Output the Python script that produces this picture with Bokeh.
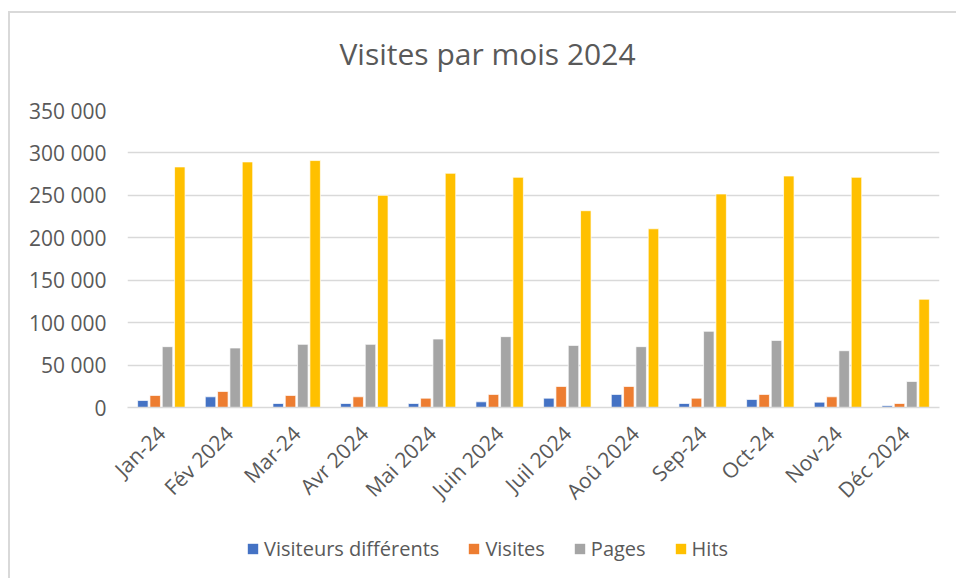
import math
from bokeh.plotting import figure
from bokeh.layouts import column
from bokeh.models import (ColumnDataSource, FixedTicker, Legend, LegendItem,
                          Range1d, FactorRange, Label)
from bokeh.transform import dodge
from bokeh.embed import file_html
from bokeh.resources import INLINE

# ---- data ----
months = ["Jan-24", "Fév 2024", "Mar-24", "Avr 2024", "Mai 2024", "Juin 2024",
          "Juil 2024", "Aoû 2024", "Sep-24", "Oct-24", "Nov-24", "Déc 2024"]
visiteurs = [8300, 12600, 4700, 4700, 4700, 6700, 11000, 15400, 4700, 9500, 6300, 2000]
visites = [14200, 18900, 14200, 12600, 11000, 15400, 24800, 24800, 11000, 15400, 12600, 4700]
pages = [71700, 70100, 74400, 74400, 80700, 83500, 73200, 71700, 89800, 79100, 66900, 30700]
hits = [283500, 289400, 291000, 250000, 276000, 271300, 231900, 210600, 251600, 272800, 271300, 127600]

title_text = "Visites par mois 2024"
series_names = ["Visiteurs différents", "Visites", "Pages", "Hits"]
series_keys = ["visiteurs", "visites", "pages", "hits"]
colors = ["#4472C4", "#ED7D31", "#A5A5A5", "#FFC000"]
y_ticks = [0, 50000, 100000, 150000, 200000, 250000, 300000, 350000]

source = ColumnDataSource(dict(months=months, visiteurs=visiteurs, visites=visites,
                               pages=pages, hits=hits))

TEXT = "#595959"
FONT = "Open Sans"
GRID = "#D9D9D9"

# ---- title strip ----
tf = figure(width=946, height=70, output_backend="svg", toolbar_location=None,
            x_range=Range1d(0, 812), y_range=Range1d(0, 70),
            x_axis_type=None, y_axis_type=None, min_border=0)
tf.outline_line_color = None
tf.xgrid.visible = False
tf.ygrid.visible = False
tf.add_layout(Label(x=360, y=30, text=title_text, text_align="center",
                    text_baseline="alphabetic", text_font=FONT,
                    text_font_size="30px", text_color=TEXT))

# ---- main chart ----
p = figure(width=946, height=435, output_backend="svg", toolbar_location=None,
           x_range=FactorRange(factors=months, range_padding=0),
           y_range=Range1d(0, 350000),
           min_border_left=117, min_border_right=17, min_border_top=27,
           min_border_bottom=111)
p.outline_line_color = None
p.background_fill_color = "white"
p.border_fill_color = "white"

offsets = [-0.273, -0.091, 0.091, 0.273]
for key, col, off in zip(series_keys, colors, offsets):
    p.vbar(x=dodge("months", off, range=p.x_range), top=key, width=0.155,
           source=source, fill_color=col, line_color="white", line_width=0.7)

# grid
p.xgrid.grid_line_color = None
p.ygrid.grid_line_color = GRID
p.ygrid.grid_line_width = 1.5
p.ygrid.ticker = FixedTicker(ticks=y_ticks)

# y axis
p.yaxis.ticker = FixedTicker(ticks=y_ticks)
p.yaxis.major_label_overrides = {t: f"{t:,}".replace(",", " ") for t in y_ticks}
p.yaxis.axis_line_color = None
p.yaxis.major_tick_line_color = None
p.yaxis.minor_tick_line_color = None
p.yaxis.major_label_standoff = 15
p.yaxis.major_label_text_font = FONT
p.yaxis.major_label_text_font_size = "21px"
p.yaxis.major_label_text_color = TEXT

# x axis
p.xaxis.axis_line_color = GRID
p.xaxis.axis_line_width = 1.5
p.xaxis.major_tick_line_color = None
p.xaxis.minor_tick_line_color = None
p.xaxis.major_label_orientation = math.pi / 4
p.xaxis.major_label_standoff = 16
p.xaxis.major_label_text_font = FONT
p.xaxis.major_label_text_font_size = "21px"
p.xaxis.major_label_text_color = TEXT

# ---- legend strip ----
lf = figure(width=946, height=60, output_backend="svg", toolbar_location=None,
            x_range=Range1d(0, 1), y_range=Range1d(0, 1),
            x_axis_type=None, y_axis_type=None, min_border=0)
lf.outline_line_color = None
lf.xgrid.visible = False
lf.ygrid.visible = False
lf_renderers = []
for col in colors:
    # zero-height proxy bar, only used to draw the legend swatch
    lf_renderers.append(lf.vbar(x=[0.5], top=[0], width=0.1, fill_color=col,
                                line_color=None))

legend = Legend(items=[LegendItem(label=n, renderers=[r]) for n, r in zip(series_names, lf_renderers)],
                orientation="horizontal", location=(119, 16),
                label_text_font=FONT, label_text_font_size="20px",
                label_text_color=TEXT, glyph_width=13, glyph_height=13,
                spacing=28, label_standoff=5, border_line_color=None,
                background_fill_alpha=0, padding=0, margin=0)
lf.add_layout(legend, "center")

layout = column(tf, p, lf, spacing=0,
                styles={"margin-left": "8px", "margin-top": "11px",
                        "border-left": "2px solid #D9D9D9",
                        "border-top": "2px solid #D9D9D9"})

open("out.html", "w").write(file_html(layout, INLINE))
